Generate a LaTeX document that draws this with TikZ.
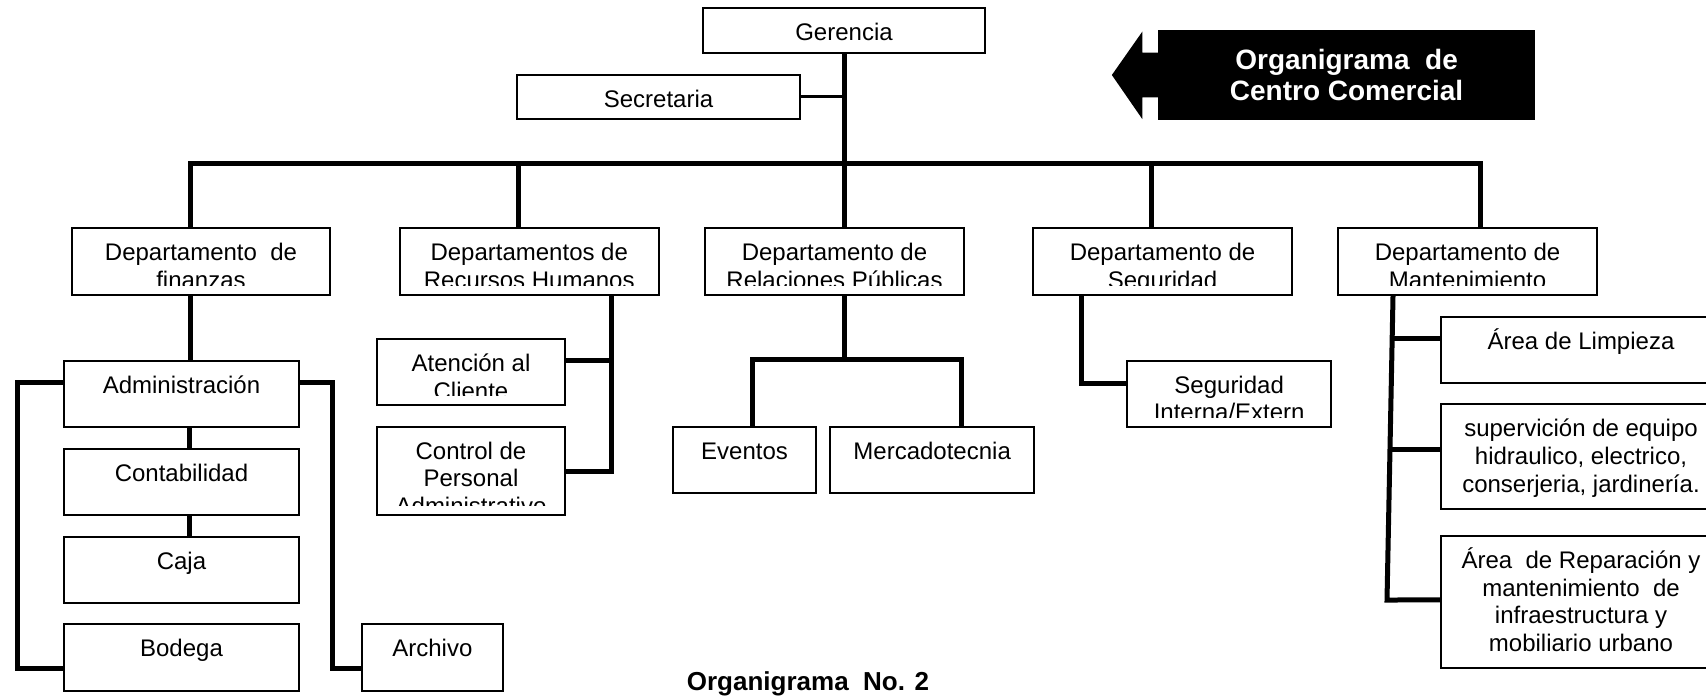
\documentclass[tikz,border=0pt]{standalone}
\usepackage{fontspec}
\setmainfont{Liberation Sans}
\usetikzlibrary{calc}

% #1 recorte inferior, #2 nombre, #3-#6 esquinas (px), #7 texto
\newcommand{\caja}[7][5.5pt]{%
  \node[recuadro, minimum width={(#5-#3)*0.5pt}, minimum height={(#6-#4)*0.5pt}]
    (#2) at ({(#3+#5)/2},{(#4+#6)/2}) {};
  \begin{scope}
    \clip (#2.north west) rectangle ([yshift=#1]#2.south east);
    \node[texto] (#2-t) at ([yshift=-4.5pt]#2.north) {\rule{0pt}{12pt}#7};
  \end{scope}}

\begin{document}
\begin{tikzpicture}[
    x=0.5pt, y=-0.5pt,
    recuadro/.style={draw, line width=1pt, inner sep=0pt},
    texto/.style={font=\fontsize{12}{13.85}\selectfont, align=center, inner sep=0pt, anchor=north},
    conector/.style={line width=2.5pt},
    titulo/.style={fill=black, text=white, inner sep=0pt, align=center,
        font=\bfseries\fontsize{14}{15.85}\selectfont}
]
\useasboundingbox (0,0) rectangle (1706,696);
\clip (0,0) rectangle (1706,696);

% Gerencia y secretaria
\caja[0pt]{ger}{703}{8.3}{985}{52.7}{Gerencia}
\caja[6.5pt]{sec}{517}{74.7}{800}{119}{Secretaria}

% Departamentos
\caja{dfin}{72}{228}{330}{295}{Departamento~ de\\finanzas}
\caja{drh}{400}{228}{658.5}{295}{Departamentos de\\Recursos Humanos}
\caja{drp}{705}{228}{964}{295}{Departamento de\\Relaciones Públicas}
\caja{dseg}{1033}{228}{1292}{295}{Departamento de\\Seguridad}
\caja{dman}{1338}{228}{1597}{295}{Departamento de\\Mantenimiento}

% Finanzas
\caja{adm}{64}{360.7}{299}{426.7}{Administración}
\caja{con}{64}{449}{299}{515}{Contabilidad}
\caja{caj}{64}{536.7}{299}{602.7}{Caja}
\caja{bod}{64}{624.3}{299}{690.7}{Bodega}
\caja{arc}{361.7}{624.3}{503}{690.7}{Archivo}

% Recursos humanos
\caja{ate}{377}{339}{565}{405}{Atención al\\Cliente}
\caja{ctl}{377}{426.7}{565}{515}{Control de\\Personal\\Administrativo}

% Relaciones publicas y seguridad
\caja{eve}{673.3}{426.7}{815.7}{493.3}{Eventos}
\caja{mer}{830}{426.7}{1034.3}{493.3}{Mercadotecnia}
\caja{sei}{1127.3}{360.7}{1331}{427.3}{Seguridad\\Interna/Extern}

% Mantenimiento
\caja{lim}{1441}{316.7}{1721}{382.7}{Área de Limpieza}
\caja{sup}{1441}{404.3}{1721}{509}{supervición de equipo\\hidraulico, electrico,\\conserjeria, jardinería.}
\caja{rep}{1441}{536}{1721}{668.3}{Área~ de Reparación y\\mantenimiento~ de\\infraestructura y\\mobiliario urbano}

% Tronco y barra
\coordinate (barra) at (844,163);
\draw[conector] (ger.south) -- (ger.south |- drp.north);
\draw[line width=1.5pt] (sec.east) -- (sec.east -| ger.south);
\draw[conector] ($(dfin.north)+(-11,0)$) |- (barra) -| ($(dman.north)+(12.5,0)$);
\draw[conector] ($(drh.north)+(-11,0)$) |- (barra);
\draw[conector] ($(dseg.north)+(-11.5,0)$) |- (barra);

% Lineas de finanzas
\draw[conector] ($(dfin.south)+(-11,0)$) -- ($(adm.north)+(8.5,0)$);
\draw[conector] ($(adm.south)+(8,0)$) -- ($(con.north)+(8,0)$);
\draw[conector] ($(con.south)+(8,0)$) -- ($(caj.north)+(8,0)$);
\draw[conector] ($(adm.west)+(0,-11)$) -- ++(-46,0) |- ($(bod.west)+(0,11)$);
\draw[conector] ($(adm.east)+(0,-11)$) -- ++(32,0) |- ($(arc.west)+(0,11)$);

% Lineas de recursos humanos
\draw[conector] ($(drh.south)+(82,0)$) |- ($(ctl.east)+(0,1)$);
\draw[conector] ($(ate.east)+(0,-12)$) -- ++(46,0);

% Lineas de relaciones publicas
\draw[conector] ($(drp.south)+(9.5,0)$) -- ++(0,65);
\draw[conector] ($(eve.north)+(7.5,0)$) |- ($(mer.north)+(29.5,-66.7)$) -- ($(mer.north)+(29.5,0)$);

% Linea de seguridad
\draw[conector] ($(dseg.south)+(-81.5,0)$) |- ($(sei.west)+(0,-11)$);

% Lineas de mantenimiento
\coordinate (mbase) at (1387,600);
\draw[conector] ($(dman.south)+(-74.5,0)$) -- (mbase) -- ($(rep.west)+(0,-2.2)$);
\draw[conector] ($(lim.west)+(0,-11)$) -- ++(-50,0);
\draw[conector] ($(sup.west)+(0,-7.3)$) -- ++(-52,0);

% Titulo con flecha
\node[titulo, minimum width=188.35pt, minimum height=45pt] (tit) at (1346.6,75)
    {Organigrama~ de\\Centro Comercial};
\fill ($(tit.west)+(0,-22.3)$) -- ++(-15.6,0) -- ($(tit.west)+(-15.6,-43.3)$)
    -- ($(tit.west)+(-46,0)$) -- ($(tit.west)+(-15.6,44)$) -- ++(0,-21.7)
    -- ($(tit.west)+(0,22.3)$) -- cycle;

\node[font=\bfseries\fontsize{13}{15}\selectfont, anchor=base] (pie) at (808,690) {Organigrama~ No. 2};
\end{tikzpicture}
\end{document}
